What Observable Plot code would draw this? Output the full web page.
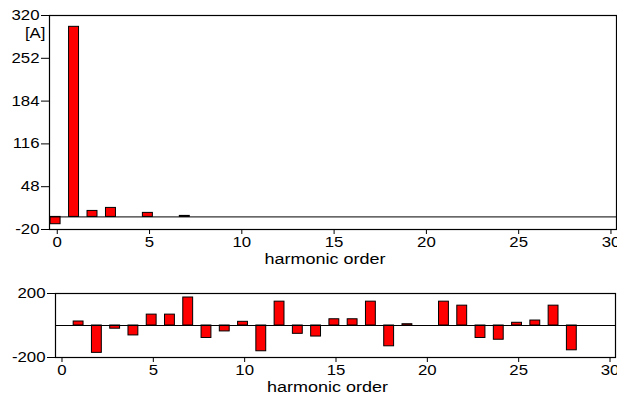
<!DOCTYPE html>
<html><head><meta charset="utf-8">
<script src="https://cdn.jsdelivr.net/npm/d3@7"></script>
<script src="https://cdn.jsdelivr.net/npm/@observablehq/plot@0.6"></script>
<style>
body{margin:0;background:#fff;}
#chart{position:relative;width:617px;height:396px;background:#fff;}
#chart svg{position:absolute;left:0;}
</style></head><body><div id="chart"></div>
<script>
// harmonic orders 0..30
const orders = d3.range(0, 31);
// amplitude spectrum [A]
const amplitude = [-11.6, 302, 9.5, 14.3, 0, 6.4, 0, 1.6, 0, 0, 0, 0, 0, 0, 0, 0,
  0, 0, 0, 0, 0, 0, 0, 0, 0, 0, 0, 0, 0, 0, 0];
// second panel values
const phase = [0, 25, -171, -20, -62, 68, 68, 175, -78, -37, 23, -161, 149, -52, -69, 39,
  39, 149, -130, 8, 0, 149, 124, -78, -89, 17, 31, 124, -155, 0, 0];
const topTicks = [320, 252, 184, 116, 48, -20];
const bottomTicks = [200, -200];
const xTicks = [0, 5, 10, 15, 20, 25, 30];
const xLabel = "harmonic order";
const unitLabel = "[A]";

const font = "'Liberation Sans', Arial, sans-serif";
const ampData = orders.map((o, i) => ({order: o, v: amplitude[i]})).filter(d => d.v !== 0);
const phData = orders.map((o, i) => ({order: o, v: phase[i]})).filter(d => d.v !== 0);

function stretch(svg, s) {
  svg.querySelectorAll("text").forEach(t => {
    let tr = t.getAttribute("transform");
    if (!tr) {
      const x = t.getAttribute("x") || 0, y = t.getAttribute("y") || 0;
      t.removeAttribute("x"); t.removeAttribute("y");
      tr = `translate(${x},${y})`;
    }
    t.setAttribute("transform", tr + ` scale(${s},1)`);
  });
}

const barOpts = {
  x1: d => d.order - 0.36, x2: d => d.order + 0.18, y1: 0, y2: "v",
  fill: "#ff0000", stroke: "#000", strokeWidth: 1
};

const topPlot = Plot.plot({
  width: 617, height: 270,
  marginTop: 15, marginBottom: 41, marginLeft: 49, marginRight: 1,
  style: {fontFamily: font, fontSize: "14px", color: "#000", background: "transparent", overflow: "visible"},
  x: {domain: [-0.42, 30.3]},
  y: {domain: [-20, 320]},
  marks: [
    Plot.rectY(ampData, barOpts),
    Plot.ruleY([0], {stroke: "#000", strokeWidth: 1}),
    Plot.frame({stroke: "#000", strokeWidth: 1.2}),
    Plot.axisX({ticks: xTicks, tickSize: 5, tickPadding: 3, label: null, tickFormat: d => String(d)}),
    Plot.axisY({ticks: topTicks, tickSize: 8, tickPadding: 2, label: null, tickFormat: d => String(d)}),
    Plot.text([xLabel], {text: d => d, frameAnchor: "bottom", dy: 29.5, dx: -8, lineAnchor: "middle", fontSize: 15}),
    Plot.text([unitLabel], {text: d => d, frameAnchor: "top-left", dx: -4, dy: 18.5, textAnchor: "end", lineAnchor: "middle"})
  ]
});
topPlot.style.top = "0px";
stretch(topPlot, 1.2);

const bottomPlot = Plot.plot({
  width: 617, height: 126,
  marginTop: 23, marginBottom: 39, marginLeft: 55, marginRight: 2,
  style: {fontFamily: font, fontSize: "14px", color: "#000", background: "transparent", overflow: "visible"},
  x: {domain: [-0.355, 30.3]},
  y: {domain: [-200, 200]},
  marks: [
    Plot.rectY(phData, barOpts),
    Plot.ruleY([0], {stroke: "#000", strokeWidth: 1}),
    Plot.frame({stroke: "#000", strokeWidth: 1.2}),
    Plot.axisX({ticks: xTicks, tickSize: 5, tickPadding: 3, label: null, tickFormat: d => String(d)}),
    Plot.axisY({ticks: bottomTicks, tickSize: 8, tickPadding: 2, label: null, tickFormat: d => String(d)}),
    Plot.text([xLabel], {text: d => d, frameAnchor: "bottom", dy: 29.5, dx: -8, lineAnchor: "middle", fontSize: 15})
  ]
});
bottomPlot.style.top = "270px";
stretch(bottomPlot, 1.2);

const c = document.getElementById("chart");
c.appendChild(topPlot);
c.appendChild(bottomPlot);
</script>
</body></html>
